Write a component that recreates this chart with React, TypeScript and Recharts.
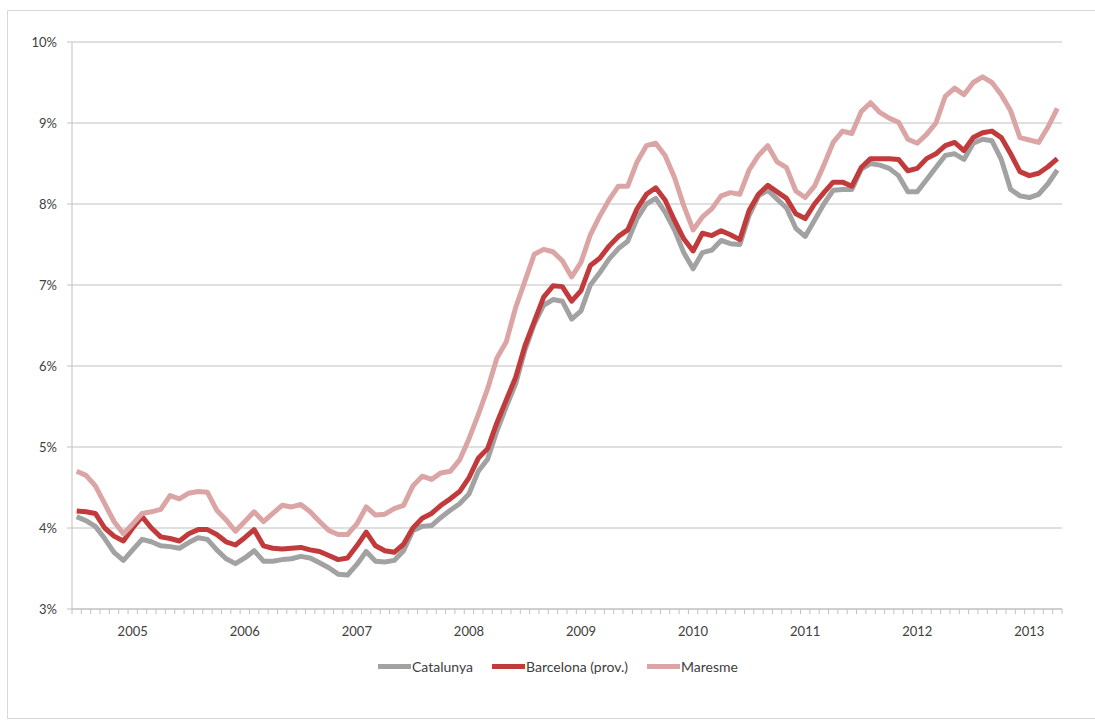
import React from 'react';
import { LineChart, Line, XAxis, YAxis, CartesianGrid } from 'recharts';

// Monthly categories: Jul 2004 .. Apr 2013
const FIRST_YEAR = 2004;
const FIRST_MONTH = 7;
const MONTH_COUNT = 106;
const months: string[] = [];
for (let k = 0; k < MONTH_COUNT; k++) {
  const m = FIRST_MONTH - 1 + k;
  const yr = FIRST_YEAR + Math.floor(m / 12);
  const mo = (m % 12) + 1;
  months.push(`${yr}-${mo < 10 ? '0' + mo : mo}`);
}

const yearLabels = ['2005', '2006', '2007', '2008', '2009', '2010', '2011', '2012', '2013'];
const yTicks = [3, 4, 5, 6, 7, 8, 9, 10];

const catalunya = [
  4.14, 4.09, 4.02, 3.87, 3.70, 3.60,
  3.73, 3.86, 3.83, 3.78, 3.77, 3.75, 3.82, 3.88, 3.86, 3.73, 3.62, 3.56,
  3.63, 3.72, 3.59, 3.59, 3.61, 3.62, 3.65, 3.63, 3.57, 3.51, 3.43, 3.42,
  3.55, 3.71, 3.59, 3.58, 3.60, 3.72, 3.97, 4.02, 4.03, 4.13, 4.22, 4.30,
  4.42, 4.70, 4.85, 5.20, 5.50, 5.78, 6.20, 6.52, 6.75, 6.82, 6.80, 6.58,
  6.68, 7.00, 7.15, 7.32, 7.45, 7.54, 7.82, 8.00, 8.07, 7.90, 7.68, 7.40,
  7.20, 7.40, 7.43, 7.55, 7.51, 7.50, 7.86, 8.10, 8.17, 8.06, 7.95, 7.70,
  7.60, 7.80, 8.00, 8.17, 8.18, 8.18, 8.43, 8.50, 8.48, 8.44, 8.35, 8.15,
  8.15, 8.30, 8.45, 8.60, 8.62, 8.55, 8.75, 8.80, 8.78, 8.55, 8.18, 8.10,
  8.08, 8.12, 8.25, 8.42,
];

const barcelona = [
  4.21, 4.20, 4.18, 4.00, 3.90, 3.84,
  4.00, 4.14, 4.00, 3.89, 3.87, 3.84, 3.93, 3.98, 3.98, 3.92, 3.83, 3.79,
  3.88, 3.98, 3.78, 3.75, 3.74, 3.75, 3.76, 3.73, 3.71, 3.66, 3.61, 3.63,
  3.78, 3.95, 3.78, 3.72, 3.70, 3.80, 4.00, 4.12, 4.18, 4.28, 4.36, 4.45,
  4.62, 4.86, 4.98, 5.30, 5.58, 5.86, 6.25, 6.55, 6.85, 6.99, 6.98, 6.80,
  6.93, 7.24, 7.33, 7.48, 7.60, 7.68, 7.94, 8.12, 8.20, 8.05, 7.80, 7.57,
  7.42, 7.64, 7.61, 7.67, 7.62, 7.56, 7.92, 8.12, 8.23, 8.15, 8.07, 7.88,
  7.82, 8.00, 8.14, 8.27, 8.27, 8.22, 8.45, 8.56, 8.56, 8.56, 8.55, 8.41,
  8.44, 8.56, 8.62, 8.72, 8.76, 8.66, 8.82, 8.88, 8.90, 8.82, 8.62, 8.40,
  8.35, 8.38, 8.46, 8.56,
];

const maresme = [
  4.70, 4.65, 4.52, 4.30, 4.08, 3.93,
  4.05, 4.18, 4.20, 4.23, 4.40, 4.36, 4.43, 4.45, 4.44, 4.22, 4.10, 3.96,
  4.08, 4.20, 4.08, 4.18, 4.28, 4.26, 4.29, 4.20, 4.08, 3.97, 3.92, 3.92,
  4.05, 4.26, 4.16, 4.17, 4.24, 4.28, 4.52, 4.64, 4.60, 4.68, 4.70, 4.84,
  5.10, 5.40, 5.72, 6.10, 6.30, 6.72, 7.05, 7.38, 7.44, 7.41, 7.30, 7.10,
  7.28, 7.62, 7.85, 8.05, 8.22, 8.22, 8.52, 8.72, 8.75, 8.60, 8.33, 7.98,
  7.68, 7.84, 7.94, 8.10, 8.14, 8.12, 8.42, 8.60, 8.72, 8.52, 8.45, 8.16,
  8.08, 8.22, 8.48, 8.76, 8.90, 8.87, 9.14, 9.25, 9.13, 9.06, 9.01, 8.80,
  8.75, 8.86, 9.00, 9.33, 9.43, 9.35, 9.50, 9.57, 9.50, 9.35, 9.15, 8.82,
  8.79, 8.76, 8.95, 9.18,
];

const series = [
  { key: 'catalunya', name: 'Catalunya', color: '#a2a2a2' },
  { key: 'barcelona', name: 'Barcelona (prov.)', color: '#c23b3c' },
  { key: 'maresme', name: 'Maresme', color: '#dba5a5' },
];

const data = months.map((m, i) => ({
  idx: i,
  month: m,
  catalunya: catalunya[i],
  barcelona: barcelona[i],
  maresme: maresme[i],
}));

const yearIdx = yearLabels.map((y) => months.indexOf(`${y}-01`));
const boundaries = months.map((_, i) => i - 0.5).concat([months.length - 0.5]);
const xTicks = [...boundaries, ...yearIdx].sort((a, b) => a - b);

const FONT = 'Lato, "Open Sans", sans-serif';
const AXIS = '#c0c0c0';
const TEXT = '#404040';

const XTick = (props: any) => {
  const { x, y, payload } = props;
  const v = payload.value;
  if (Number.isInteger(v)) {
    const label = yearLabels[yearIdx.indexOf(v)];
    return (
      <text x={x} y={y + 22} textAnchor="middle" dominantBaseline="central" fill={TEXT} fontSize={13} fontFamily={FONT}>
        {label}
      </text>
    );
  }
  return <line x1={x} x2={x} y1={y} y2={y + 5} stroke={AXIS} strokeWidth={1} />;
};

export default function App() {
  return (
    <div style={{ position: 'relative', width: 1095, height: 722, overflow: 'hidden', background: '#fff' }}>
      <style>{'body{margin:0}'}</style>
      <div
        style={{
          position: 'absolute',
          left: 7,
          top: 10,
          width: 1200,
          height: 709,
          border: '1px solid #d9d9d9',
          boxSizing: 'border-box',
        }}
      />
      <div style={{ position: 'absolute', left: 8, top: 8 }}>
        <LineChart
          width={1087}
          height={700}
          data={data}
          margin={{ top: 34, right: 33, bottom: 69, left: 0 }}
          style={{ fontFamily: FONT }}
        >
          <CartesianGrid vertical={false} stroke={AXIS} strokeWidth={1} />
          <XAxis
            dataKey="idx"
            type="number"
            domain={[-0.5, months.length - 0.5]}
            ticks={xTicks}
            interval={0}
            tickLine={false}
            tickSize={0}
            tickMargin={0}
            axisLine={{ stroke: AXIS }}
            tick={<XTick />}
            height={30}
            allowDataOverflow
          />
          <YAxis
            type="number"
            domain={[3, 10]}
            ticks={yTicks}
            interval={0}
            width={64}
            tickSize={5}
            tickMargin={10}
            axisLine={{ stroke: AXIS }}
            tickLine={{ stroke: AXIS }}
            tickFormatter={(v: number) => `${v}%`}
            tick={{ fill: TEXT, fontSize: 13, fontFamily: FONT }}
          />
          {series.map((s) => (
            <Line
              key={s.key}
              type="linear"
              dataKey={s.key}
              name={s.name}
              stroke={s.color}
              strokeWidth={5}
              dot={false}
              activeDot={false}
              strokeLinejoin="round"
              isAnimationActive={false}
            />
          ))}
        </LineChart>
      </div>
      <div
        style={{
          position: 'absolute',
          left: 378,
          top: 658,
          display: 'flex',
          alignItems: 'center',
          gap: 19,
          fontFamily: FONT,
          fontSize: 14,
          color: TEXT,
          whiteSpace: 'nowrap',
        }}
      >
        {series.map((s) => (
          <div key={s.key} style={{ display: 'flex', alignItems: 'center' }}>
            <span style={{ display: 'inline-block', width: 33, height: 5, background: s.color, marginRight: 1 }} />
            <span>{s.name}</span>
          </div>
        ))}
      </div>
    </div>
  );
}
